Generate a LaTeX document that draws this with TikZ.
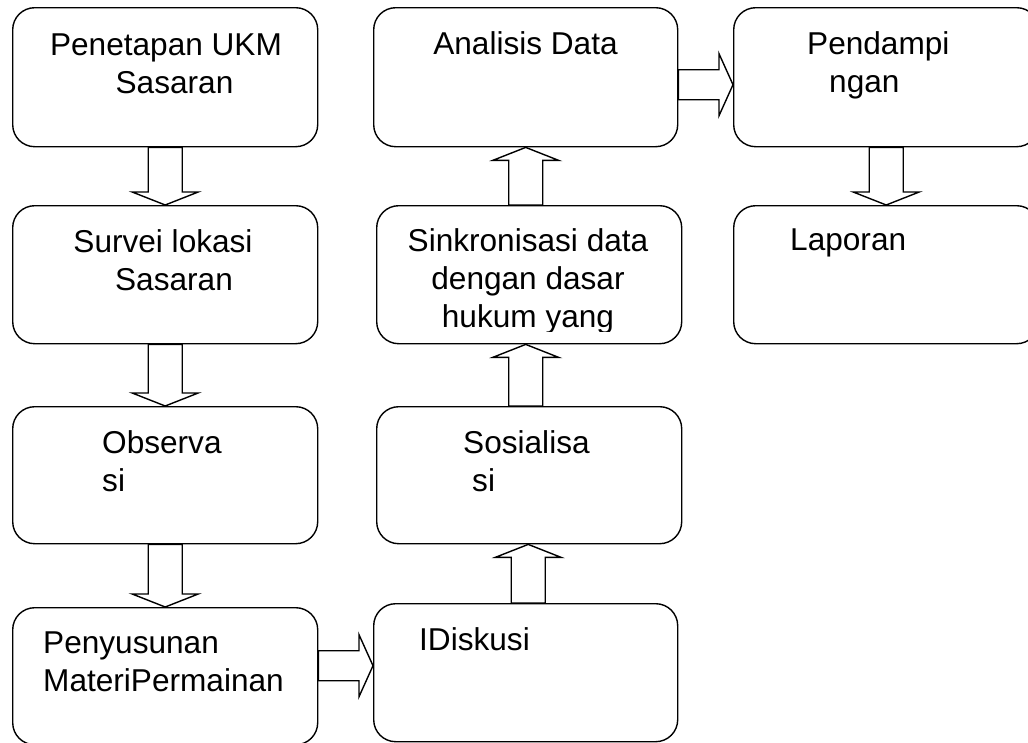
\documentclass[tikz,border=0pt]{standalone}
\usepackage{fontspec}
\setmainfont{Liberation Sans}
\usetikzlibrary{calc}

\begin{document}
\begin{tikzpicture}[%
      x=1pt, y=-1pt,
      box/.style={draw, line width=1.4pt, rounded corners=22pt, anchor=north west,
        inner sep=0pt, minimum width=305pt, minimum height=138pt},
      txt/.style={inner sep=0pt, font=\fontsize{31.6}{38}\selectfont},
      vblk/.style={draw, line width=1.4pt, to path={
        let \p1=(\tikztostart), \p2=(\tikztotarget), \n1={sign(\y2-\y1)} in
        (\x1-17pt,\y1) -- (\x1-17pt,\y2-\n1*13pt) -- (\x1-33pt,\y2-\n1*13pt) -- (\x1,\y2)
        -- (\x1+33pt,\y2-\n1*13pt) -- (\x1+17pt,\y2-\n1*13pt) -- (\x1+17pt,\y1) -- cycle}},
      hblk/.style={draw, line width=1.4pt, to path={
        let \p1=(\tikztostart), \p2=(\tikztotarget) in
        (\x1,\y1-15pt) -- (\x2-14pt,\y1-15pt) -- (\x2-14pt,\y1-31pt) -- (\x2,\y1)
        -- (\x2-14pt,\y1+31pt) -- (\x2-14pt,\y1+15pt) -- (\x1,\y1+15pt) -- cycle}},
      ]
      \useasboundingbox (0,0) rectangle (1028,742);
      \clip (0,0) rectangle (1028,742);

      % boxes
      \node[box, minimum height=139pt] (pen) at (12,7) {};
      \node[box] (sur) at (12,205) {};
      \node[box, minimum height=137pt] (obs) at (12,406) {};
      \node[box, minimum height=137pt] (pny) at (12,607) {};
      \node[box, minimum width=304pt, minimum height=139pt] (ana) at (373,7) {};
      \node[box] (sin) at (376,205) {};
      \node[box, minimum height=137pt] (sos) at (376,406) {};
      \node[box, minimum width=304pt] (dis) at (373,603) {};
      \node[box, minimum height=139pt] (pdm) at (733,7) {};
      \node[box] (lap) at (733,205) {};

      % texts (base = last line)
      \node[txt, align=center, anchor=base] (penT) at (166,93) {Penetapan UKM\\\hspace*{17pt}Sasaran};
      \node[txt, align=center, anchor=base] (surT) at (163,290) {Survei lokasi\\\hspace*{22pt}Sasaran};
      \node[txt, align=left, anchor=base west] (obsT) at (102,491) {Observa\\si};
      \node[txt, align=left, anchor=base west] (pnyT) at (43,691) {Penyusunan\\MateriPermainan};
      \node[txt, anchor=base] (anaT) at (525.5,54) {Analisis Data};
      \begin{scope}
        \clip (376,205) rectangle (681,331);
        \node[txt, align=center, anchor=base] (sinT) at (528,327) {Sinkronisasi data\\dengan dasar\\hukum yang};
      \end{scope}
      \node[txt, align=left, anchor=base west] (sosT) at (463,491) {Sosialisa\\\hspace*{9pt}si};
      \node[txt, anchor=base west] (disT) at (419,650) {IDiskusi};
      \node[txt, align=left, anchor=base west] (pdmT) at (807,92) {Pendampi\\\hspace*{22pt}ngan};
      \node[txt, anchor=base west] (lapT) at (790,250) {Laporan};

      % block arrows
      \draw[vblk] (pen.south) to (sur.north);
      \draw[vblk] (sur.south) to (obs.north);
      \draw[vblk] (obs.south) to (pny.north);
      \draw[hblk] ([yshift=10.5pt]pny.east) to (dis.west);
      \draw[vblk] ([xshift=2.5pt]dis.north) to (sos.south);
      \draw[vblk] ([xshift=-3.5pt]sos.north) to (sin.south);
      \draw[vblk] ([xshift=-3.5pt]sin.north) to (ana.south);
      \draw[hblk] ([yshift=-7.5pt]ana.east) to (pdm.west);
      \draw[vblk] (pdm.south) to (lap.north);
      \end{tikzpicture}
\end{document}
